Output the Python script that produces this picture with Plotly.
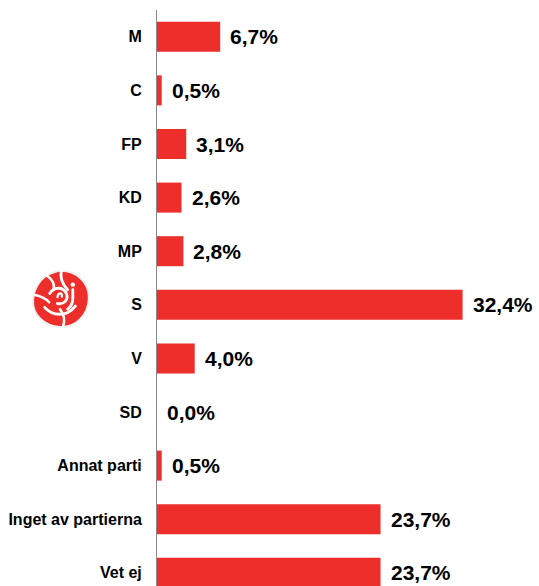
import plotly.graph_objects as go
import base64

categories = ["M", "C", "FP", "KD", "MP", "S", "V", "SD", "Annat parti", "Inget av partierna", "Vet ej"]
values = [6.7, 0.5, 3.1, 2.6, 2.8, 32.4, 4.0, 0.0, 0.5, 23.7, 23.7]
value_labels = ["6,7%", "0,5%", "3,1%", "2,6%", "2,8%", "32,4%", "4,0%", "0,0%", "0,5%", "23,7%", "23,7%"]

RED = "#ee2e2a"
FONT = "Liberation Sans, Arial, sans-serif"
ypos = list(range(len(categories)))

fig = go.Figure()
fig.add_trace(go.Bar(
    x=values, y=ypos, orientation="h",
    marker=dict(color=RED, line=dict(width=0)),
    width=0.56, hoverinfo="skip",
))

for v, lab, y in zip(values, value_labels, ypos):
    fig.add_annotation(x=v, y=y, text="<b>" + lab + "</b>", showarrow=False, xanchor="left",
                       yanchor="middle", xshift=8,
                       font=dict(family=FONT, size=21, color="#000"))

svg = """<svg xmlns='http://www.w3.org/2000/svg' viewBox='0 0 100 100' width='200' height='200'>
<path d='M48,6 C74,4 96,24 95,50 C94,77 74,96 50,95 C26,94 6,76 8,52 C9,34 20,16 36,10 Z' fill='#ee2e2a' stroke='#f0f0f0' stroke-width='3'/>
<path d='M26,64 C38,78 60,80 74,62' fill='none' stroke='#fff' stroke-width='4.5' stroke-linecap='round'/>
<path d='M34,42 C40,32 54,30 60,42 C64,52 56,60 46,58' fill='none' stroke='#fff' stroke-width='4.5' stroke-linecap='round'/>
<path d='M46,48 C47,40 54,40 53,47' fill='none' stroke='#fff' stroke-width='3.5' stroke-linecap='round'/>
<path d='M52,6 C50,18 54,28 62,36' fill='none' stroke='#fff' stroke-width='4.5' stroke-linecap='round'/>
<path d='M30,14 C38,20 42,28 40,36' fill='none' stroke='#fff' stroke-width='4' stroke-linecap='round'/>
<path d='M9,44 C20,46 28,50 33,56' fill='none' stroke='#fff' stroke-width='4' stroke-linecap='round'/>
<path d='M70,36 L70,50 C70,58 66,64 62,67' fill='none' stroke='#fff' stroke-width='4.5' stroke-linecap='round'/>
<circle cx='70' cy='28' r='3.5' fill='#fff'/>
<path d='M50,67 C56,75 58,85 55,94' fill='none' stroke='#fff' stroke-width='4' stroke-linecap='round'/>
</svg>"""
src = "data:image/svg+xml;base64," + base64.b64encode(svg.encode()).decode()
fig.add_layout_image(dict(source=src, xref="paper", yref="paper",
                          x=-0.3377, y=0.5538, sizex=0.1675, sizey=0.1094,
                          xanchor="left", yanchor="top", sizing="stretch", layer="above"))

fig.update_layout(
    width=539, height=586,
    margin=dict(l=157, r=0, t=10, b=0, autoexpand=False),
    paper_bgcolor="white", plot_bgcolor="white",
    showlegend=False,
    xaxis=dict(range=[0, 40.5], visible=False, fixedrange=True, automargin=False),
    yaxis=dict(range=[10.246, -0.5], tickvals=ypos, ticktext=categories,
               showgrid=False, zeroline=False, showline=True, linecolor="#888888",
               linewidth=1, ticks="", ticklabelstandoff=11, automargin=False,
               tickfont=dict(family=FONT, size=16, color="#000", weight="bold"),
               fixedrange=True),
    font=dict(family=FONT),
)

fig.write_html("out.html", config={"displayModeBar": False},
               post_script="document.body.style.margin='0';document.body.style.overflow='hidden';")
